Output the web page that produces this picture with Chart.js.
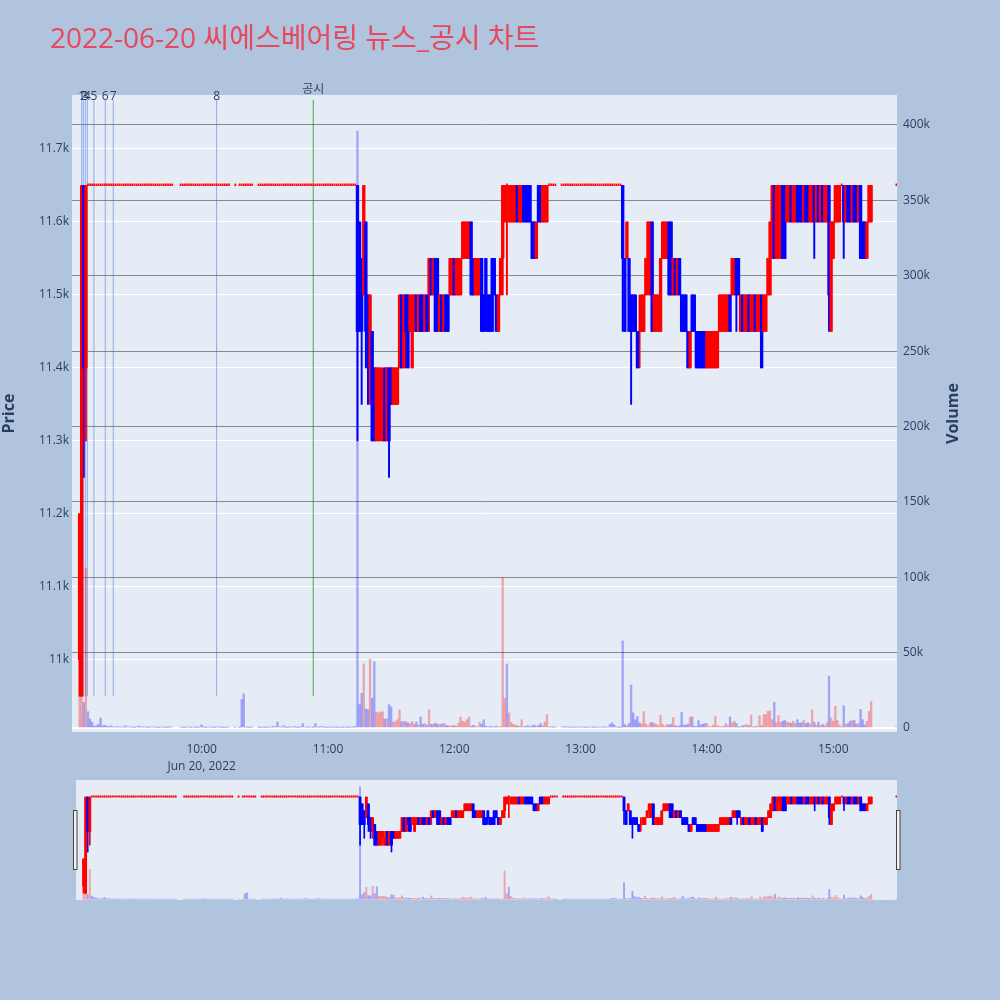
<!DOCTYPE html>
<html>
<head>
<meta charset="utf-8">
<script src="https://cdn.jsdelivr.net/npm/chart.js@4.4.1/dist/chart.umd.min.js"></script>
<style>
  html, body { margin: 0; padding: 0; background: #b0c4de; }
  #wrap { position: relative; width: 1000px; height: 1000px; background: #b0c4de; }
  #main { position: absolute; left: 0; top: 0; }
  #mini { position: absolute; left: 0; top: 780px; }
</style>
</head>
<body>
<div id="wrap">
  <canvas id="main" width="1000" height="780" style="width:1000px;height:780px"></canvas>
  <canvas id="mini" width="1000" height="120" style="width:1000px;height:120px"></canvas>
</div>
<script>
// one slot per minute, 09:00 .. 15:30 (null = no trade in that minute)
const firstMinute = "09:00";

const openPrice = [
  null, null, 11000, 10950, 11650, 11400, 11650, 11650, 11650, 11650, // 09:00
  11650, 11650, 11650, 11650, 11650, 11650, 11650, 11650, 11650, 11650, // 09:10
  11650, 11650, 11650, 11650, 11650, 11650, 11650, 11650, 11650, 11650, // 09:20
  11650, 11650, 11650, 11650, 11650, 11650, 11650, 11650, 11650, 11650, // 09:30
  11650, 11650, 11650, 11650, 11650, 11650, 11650, null, null, null,    // 09:40
  11650, 11650, 11650, 11650, 11650, 11650, 11650, 11650, 11650, 11650, // 09:50
  11650, 11650, 11650, 11650, 11650, 11650, 11650, 11650, 11650, 11650, // 10:00
  11650, 11650, 11650, 11650, null, null, 11650, null, 11650, 11650,    // 10:10
  11650, 11650, 11650, 11650, 11650, null, null, 11650, 11650, 11650,   // 10:20
  11650, 11650, 11650, 11650, 11650, 11650, 11650, 11650, 11650, 11650, // 10:30
  11650, 11650, 11650, 11650, 11650, 11650, 11650, 11650, 11650, 11650, // 10:40
  11650, 11650, 11650, 11650, 11650, 11650, 11650, 11650, 11650, 11650, // 10:50
  11650, 11650, 11650, 11650, 11650, 11650, 11650, 11650, 11650, 11650, // 11:00
  11650, 11650, 11650, 11650, 11650, 11600, 11550, 11500, 11600, 11500, // 11:10
  11400, 11450, 11400, 11300, 11300, 11350, 11300, 11400, 11300, 11400, // 11:20
  11400, 11350, 11350, 11350, 11400, 11500, 11400, 11500, 11500, 11450, // 11:30
  11400, 11450, 11500, 11450, 11500, 11500, 11450, 11500, 11500, 11550, // 11:40
  11500, 11550, 11550, 11450, 11500, 11450, 11500, 11500, 11500, 11500, // 11:50
  11550, 11500, 11500, 11500, 11550, 11550, 11550, 11550, 11600, 11550, // 12:00
  11500, 11500, 11500, 11550, 11500, 11550, 11500, 11500, 11550, 11550, // 12:10
  11500, 11450, 11500, 11550, 11600, 11650, 11600, 11600, 11600, 11600, // 12:20
  11650, 11600, 11600, 11650, 11650, 11650, 11650, 11600, 11600, 11550, // 12:30
  11650, 11650, 11600, 11600, 11600, 11650, 11650, 11650, 11650, null,  // 12:40
  null, 11650, 11650, 11650, 11650, 11650, 11650, 11650, 11650, 11650,  // 12:50
  11650, 11650, 11650, 11650, 11650, 11650, 11650, 11650, 11650, 11650, // 13:00
  11650, 11650, 11650, 11650, 11650, 11650, 11650, 11650, 11650, 11650, // 13:10
  11650, 11550, 11550, 11550, 11500, 11500, 11500, 11450, 11450, 11450, // 13:20
  11450, 11500, 11550, 11500, 11600, 11450, 11450, 11450, 11450, 11550, // 13:30
  11550, 11550, 11600, 11600, 11500, 11550, 11500, 11550, 11500, 11500, // 13:40
  11500, 11450, 11400, 11500, 11500, 11450, 11450, 11450, 11450, 11450, // 13:50
  11400, 11400, 11400, 11400, 11400, 11400, 11450, 11450, 11450, 11450, // 14:00
  11450, 11500, 11500, 11500, 11550, 11550, 11450, 11500, 11450, 11450, // 14:10
  11500, 11450, 11450, 11500, 11450, 11450, 11500, 11450, 11450, 11500, // 14:20
  11500, 11550, 11650, 11550, 11600, 11550, 11650, 11650, 11600, 11600, // 14:30
  11650, 11600, 11600, 11650, 11650, 11650, 11600, 11650, 11650, 11600, // 14:40
  11600, 11650, 11600, 11650, 11600, 11650, 11600, 11600, 11650, 11450, // 14:50
  11550, 11600, 11600, 11600, 11650, 11650, 11600, 11650, 11650, 11600, // 15:00
  11650, 11650, 11600, 11650, 11600, 11600, 11550, 11600, 11600, null,  // 15:10
  null, null, null, null, null, null, null, null, null, null,           // 15:20
  11650                                                                 // 15:30
];

const highPrice = [
  null, null, 11200, 11650, 11650, 11650, 11650, 11650, 11650, 11650, // 09:00
  11650, 11650, 11650, 11650, 11650, 11650, 11650, 11650, 11650, 11650, // 09:10
  11650, 11650, 11650, 11650, 11650, 11650, 11650, 11650, 11650, 11650, // 09:20
  11650, 11650, 11650, 11650, 11650, 11650, 11650, 11650, 11650, 11650, // 09:30
  11650, 11650, 11650, 11650, 11650, 11650, 11650, null, null, null,    // 09:40
  11650, 11650, 11650, 11650, 11650, 11650, 11650, 11650, 11650, 11650, // 09:50
  11650, 11650, 11650, 11650, 11650, 11650, 11650, 11650, 11650, 11650, // 10:00
  11650, 11650, 11650, 11650, null, null, 11650, null, 11650, 11650,    // 10:10
  11650, 11650, 11650, 11650, 11650, null, null, 11650, 11650, 11650,   // 10:20
  11650, 11650, 11650, 11650, 11650, 11650, 11650, 11650, 11650, 11650, // 10:30
  11650, 11650, 11650, 11650, 11650, 11650, 11650, 11650, 11650, 11650, // 10:40
  11650, 11650, 11650, 11650, 11650, 11650, 11650, 11650, 11650, 11650, // 10:50
  11650, 11650, 11650, 11650, 11650, 11650, 11650, 11650, 11650, 11650, // 11:00
  11650, 11650, 11650, 11650, 11650, 11600, 11550, 11650, 11600, 11500, // 11:10
  11500, 11450, 11400, 11400, 11400, 11400, 11400, 11400, 11400, 11400, // 11:20
  11400, 11400, 11400, 11400, 11500, 11500, 11500, 11500, 11500, 11500, // 11:30
  11500, 11500, 11500, 11500, 11500, 11500, 11500, 11500, 11550, 11550, // 11:40
  11550, 11550, 11550, 11500, 11500, 11500, 11500, 11500, 11550, 11550, // 11:50
  11550, 11550, 11550, 11550, 11600, 11600, 11600, 11600, 11600, 11550, // 12:00
  11550, 11550, 11550, 11550, 11500, 11550, 11500, 11500, 11550, 11550, // 12:10
  11500, 11500, 11550, 11650, 11650, 11650, 11650, 11650, 11650, 11650, // 12:20
  11650, 11650, 11650, 11650, 11650, 11650, 11650, 11600, 11600, 11600, // 12:30
  11650, 11650, 11650, 11650, 11650, 11650, 11650, 11650, 11650, null,  // 12:40
  null, 11650, 11650, 11650, 11650, 11650, 11650, 11650, 11650, 11650,  // 12:50
  11650, 11650, 11650, 11650, 11650, 11650, 11650, 11650, 11650, 11650, // 13:00
  11650, 11650, 11650, 11650, 11650, 11650, 11650, 11650, 11650, 11650, // 13:10
  11650, 11550, 11600, 11550, 11500, 11500, 11500, 11450, 11500, 11500, // 13:20
  11500, 11550, 11600, 11600, 11600, 11500, 11500, 11500, 11550, 11600, // 13:30
  11600, 11600, 11600, 11600, 11550, 11550, 11550, 11550, 11500, 11500, // 13:40
  11500, 11450, 11450, 11500, 11500, 11450, 11450, 11450, 11450, 11450, // 13:50
  11450, 11450, 11450, 11450, 11450, 11450, 11500, 11500, 11500, 11500, // 14:00
  11500, 11500, 11550, 11550, 11550, 11550, 11500, 11500, 11500, 11500, // 14:10
  11500, 11500, 11500, 11500, 11500, 11500, 11500, 11500, 11500, 11550, // 14:20
  11600, 11650, 11650, 11650, 11650, 11650, 11650, 11650, 11650, 11650, // 14:30
  11650, 11650, 11650, 11650, 11650, 11650, 11650, 11650, 11650, 11650, // 14:40
  11650, 11650, 11650, 11650, 11650, 11650, 11650, 11650, 11650, 11600, // 14:50
  11600, 11650, 11650, 11650, 11650, 11650, 11650, 11650, 11650, 11650, // 15:00
  11650, 11650, 11650, 11650, 11600, 11600, 11600, 11650, 11650, null,  // 15:10
  null, null, null, null, null, null, null, null, null, null,           // 15:20
  11650                                                                 // 15:30
];

const lowPrice = [
  null, null, 10950, 10950, 11250, 11300, 11650, 11650, 11650, 11650, // 09:00
  11650, 11650, 11650, 11650, 11650, 11650, 11650, 11650, 11650, 11650, // 09:10
  11650, 11650, 11650, 11650, 11650, 11650, 11650, 11650, 11650, 11650, // 09:20
  11650, 11650, 11650, 11650, 11650, 11650, 11650, 11650, 11650, 11650, // 09:30
  11650, 11650, 11650, 11650, 11650, 11650, 11650, null, null, null,    // 09:40
  11650, 11650, 11650, 11650, 11650, 11650, 11650, 11650, 11650, 11650, // 09:50
  11650, 11650, 11650, 11650, 11650, 11650, 11650, 11650, 11650, 11650, // 10:00
  11650, 11650, 11650, 11650, null, null, 11650, null, 11650, 11650,    // 10:10
  11650, 11650, 11650, 11650, 11650, null, null, 11650, 11650, 11650,   // 10:20
  11650, 11650, 11650, 11650, 11650, 11650, 11650, 11650, 11650, 11650, // 10:30
  11650, 11650, 11650, 11650, 11650, 11650, 11650, 11650, 11650, 11650, // 10:40
  11650, 11650, 11650, 11650, 11650, 11650, 11650, 11650, 11650, 11650, // 10:50
  11650, 11650, 11650, 11650, 11650, 11650, 11650, 11650, 11650, 11650, // 11:00
  11650, 11650, 11650, 11650, 11300, 11450, 11350, 11500, 11400, 11350, // 11:10
  11350, 11300, 11300, 11300, 11300, 11300, 11300, 11300, 11300, 11250, // 11:20
  11350, 11350, 11350, 11350, 11400, 11400, 11400, 11400, 11400, 11450, // 11:30
  11400, 11450, 11450, 11450, 11450, 11450, 11450, 11450, 11450, 11500, // 11:40
  11500, 11450, 11450, 11450, 11450, 11450, 11450, 11450, 11500, 11500, // 11:50
  11500, 11500, 11500, 11500, 11550, 11550, 11550, 11550, 11500, 11500, // 12:00
  11500, 11500, 11500, 11450, 11450, 11450, 11450, 11450, 11450, 11500, // 12:10
  11450, 11450, 11500, 11500, 11600, 11500, 11600, 11600, 11600, 11600, // 12:20
  11600, 11600, 11600, 11600, 11600, 11600, 11600, 11550, 11550, 11550, // 12:30
  11600, 11600, 11600, 11600, 11600, 11650, 11650, 11650, 11650, null,  // 12:40
  null, 11650, 11650, 11650, 11650, 11650, 11650, 11650, 11650, 11650,  // 12:50
  11650, 11650, 11650, 11650, 11650, 11650, 11650, 11650, 11650, 11650, // 13:00
  11650, 11650, 11650, 11650, 11650, 11650, 11650, 11650, 11650, 11650, // 13:10
  11450, 11450, 11550, 11450, 11350, 11450, 11450, 11400, 11400, 11450, // 13:20
  11450, 11500, 11500, 11500, 11450, 11450, 11450, 11450, 11450, 11550, // 13:30
  11550, 11550, 11500, 11500, 11500, 11500, 11500, 11500, 11450, 11450, // 13:40
  11450, 11400, 11400, 11450, 11450, 11400, 11400, 11400, 11400, 11400, // 13:50
  11400, 11400, 11400, 11400, 11400, 11400, 11450, 11450, 11450, 11450, // 14:00
  11450, 11450, 11500, 11500, 11450, 11500, 11450, 11450, 11450, 11450, // 14:10
  11450, 11450, 11450, 11450, 11450, 11450, 11400, 11450, 11450, 11500, // 14:20
  11500, 11550, 11550, 11550, 11550, 11550, 11550, 11550, 11600, 11600, // 14:30
  11600, 11600, 11600, 11600, 11600, 11600, 11600, 11600, 11600, 11600, // 14:40
  11600, 11550, 11600, 11600, 11600, 11600, 11600, 11600, 11450, 11450, // 14:50
  11550, 11600, 11600, 11600, 11650, 11550, 11600, 11600, 11600, 11600, // 15:00
  11600, 11600, 11600, 11550, 11550, 11550, 11550, 11600, 11600, null,  // 15:10
  null, null, null, null, null, null, null, null, null, null,           // 15:20
  11650                                                                 // 15:30
];

const closePrice = [
  null, null, 11200, 11650, 11400, 11650, 11650, 11650, 11650, 11650, // 09:00
  11650, 11650, 11650, 11650, 11650, 11650, 11650, 11650, 11650, 11650, // 09:10
  11650, 11650, 11650, 11650, 11650, 11650, 11650, 11650, 11650, 11650, // 09:20
  11650, 11650, 11650, 11650, 11650, 11650, 11650, 11650, 11650, 11650, // 09:30
  11650, 11650, 11650, 11650, 11650, 11650, 11650, null, null, null,    // 09:40
  11650, 11650, 11650, 11650, 11650, 11650, 11650, 11650, 11650, 11650, // 09:50
  11650, 11650, 11650, 11650, 11650, 11650, 11650, 11650, 11650, 11650, // 10:00
  11650, 11650, 11650, 11650, null, null, 11650, null, 11650, 11650,    // 10:10
  11650, 11650, 11650, 11650, 11650, null, null, 11650, 11650, 11650,   // 10:20
  11650, 11650, 11650, 11650, 11650, 11650, 11650, 11650, 11650, 11650, // 10:30
  11650, 11650, 11650, 11650, 11650, 11650, 11650, 11650, 11650, 11650, // 10:40
  11650, 11650, 11650, 11650, 11650, 11650, 11650, 11650, 11650, 11650, // 10:50
  11650, 11650, 11650, 11650, 11650, 11650, 11650, 11650, 11650, 11650, // 11:00
  11650, 11650, 11650, 11650, 11450, 11450, 11450, 11650, 11450, 11400, // 11:10
  11500, 11300, 11300, 11400, 11400, 11400, 11350, 11300, 11400, 11300, // 11:20
  11350, 11400, 11400, 11400, 11500, 11400, 11500, 11450, 11400, 11500, // 11:30
  11500, 11500, 11450, 11500, 11450, 11450, 11500, 11450, 11550, 11500, // 11:40
  11550, 11450, 11450, 11500, 11450, 11500, 11450, 11450, 11550, 11550, // 11:50
  11500, 11550, 11550, 11550, 11600, 11600, 11600, 11600, 11500, 11500, // 12:00
  11550, 11550, 11550, 11450, 11450, 11500, 11450, 11450, 11450, 11500, // 12:10
  11450, 11500, 11550, 11650, 11650, 11650, 11650, 11650, 11650, 11650, // 12:20
  11600, 11650, 11650, 11600, 11600, 11600, 11600, 11550, 11550, 11600, // 12:30
  11600, 11600, 11650, 11650, 11650, 11650, 11650, 11650, 11650, null,  // 12:40
  null, 11650, 11650, 11650, 11650, 11650, 11650, 11650, 11650, 11650,  // 12:50
  11650, 11650, 11650, 11650, 11650, 11650, 11650, 11650, 11650, 11650, // 13:00
  11650, 11650, 11650, 11650, 11650, 11650, 11650, 11650, 11650, 11650, // 13:10
  11550, 11450, 11600, 11450, 11450, 11450, 11450, 11400, 11450, 11500, // 13:20
  11500, 11550, 11600, 11600, 11450, 11500, 11500, 11500, 11550, 11600, // 13:30
  11600, 11600, 11500, 11500, 11550, 11500, 11550, 11500, 11450, 11450, // 13:40
  11450, 11400, 11450, 11450, 11450, 11400, 11400, 11400, 11400, 11400, // 13:50
  11450, 11450, 11450, 11450, 11450, 11450, 11500, 11500, 11500, 11500, // 14:00
  11500, 11450, 11550, 11550, 11500, 11500, 11500, 11450, 11500, 11500, // 14:10
  11450, 11500, 11500, 11450, 11500, 11500, 11400, 11500, 11500, 11550, // 14:20
  11600, 11650, 11550, 11650, 11650, 11650, 11550, 11550, 11650, 11650, // 14:30
  11600, 11650, 11650, 11600, 11600, 11600, 11650, 11600, 11600, 11650, // 14:40
  11650, 11600, 11650, 11600, 11650, 11600, 11650, 11650, 11500, 11600, // 14:50
  11600, 11650, 11650, 11650, 11650, 11600, 11650, 11600, 11600, 11650, // 15:00
  11600, 11600, 11650, 11550, 11550, 11550, 11600, 11650, 11650, null,  // 15:10
  null, null, null, null, null, null, null, null, null, null,           // 15:20
  11650                                                                 // 15:30
];

const volume = [
  null, null, 60000, 175000, 17000, 106000, 10800, 6000, 3800, 1200,   // 09:00
  1500, 2500, 6600, 1500, 1800, 1200, 900, 1500, 600, 800,             // 09:10
  1000, 500, 700, 400, 1500, 600, 800, 500, 300, 600,                  // 09:20
  1200, 900, 500, 700, 400, 300, 800, 600, 500, 400,                   // 09:30
  300, 700, 500, 400, 300, 900, 600, null, null, null,                 // 09:40
  500, 400, 300, 600, 500, 300, 700, 400, 300, 500,                    // 09:50
  2000, 400, 300, 500, 600, 400, 300, 500, 800, 300,                   // 10:00
  400, 300, 500, 600, null, null, 400, null, 300, 19000,               // 10:10
  22600, 500, 400, 300, 600, null, null, 400, 300, 500,                // 10:20
  400, 300, 500, 600, 1200, 500, 4000, 800, 500, 1500,                 // 10:30
  400, 300, 600, 500, 1000, 400, 300, 800, 3000, 600,                  // 10:40
  400, 500, 700, 300, 3000, 600, 400, 1000, 500, 400,                  // 10:50
  300, 500, 400, 600, 300, 400, 500, 300, 600, 400,                    // 11:00
  300, 500, 400, 1200, 396000, 15500, 23000, 42500, 12600, 12200,      // 11:10
  45700, 19700, 43900, 10600, 10000, 10600, 10800, 6000, 6200, 15500,  // 11:20
  14000, 4000, 4200, 5500, 12000, 4200, 4500, 4000, 3500, 3000,        // 11:30
  4200, 2500, 4000, 2000, 7300, 2500, 3000, 2000, 12000, 2500,         // 11:40
  2500, 3200, 2500, 2500, 2500, 3200, 2000, 1500, 1200, 1800,          // 11:50
  1500, 1200, 3200, 7300, 4500, 4000, 5500, 7300, 1200, 1800,          // 12:00
  1200, 800, 3800, 2500, 5500, 1200, 800, 1000, 900, 600,              // 12:10
  1200, 600, 1000, 100000, 19700, 42500, 10000, 3700, 2500, 2000,      // 12:20
  1500, 1200, 5500, 800, 1200, 1500, 800, 1500, 2000, 1200,            // 12:30
  1800, 3000, 1500, 4000, 8900, 600, 800, 400, 500, null,              // 12:40
  null, 700, 400, 1000, 500, 300, 600, 400, 800, 500,                  // 12:50
  400, 600, 300, 500, 400, 700, 300, 500, 400, 600,                    // 13:00
  500, 400, 800, 600, 2500, 3500, 2000, 600, 400, 300,                 // 13:10
  57800, 2200, 1500, 3000, 28500, 10000, 5500, 7700, 3500, 2500,       // 13:20
  11000, 2800, 1500, 3500, 3800, 2800, 2500, 1500, 8400, 2500,         // 13:30
  1200, 2500, 2000, 2500, 7000, 1500, 1200, 1500, 10400, 1800,         // 13:40
  2000, 2500, 7300, 7300, 1200, 1000, 5000, 2000, 2500, 3000,          // 13:50
  3000, 1000, 1000, 2000, 7700, 1500, 1000, 500, 1200, 3000,           // 14:00
  1500, 7300, 3500, 4500, 3000, 500, 1000, 1500, 2000, 2200,           // 14:10
  1500, 8600, 500, 1000, 1200, 8200, 1500, 8900, 8900, 11000,          // 14:20
  11400, 5500, 17000, 3500, 8200, 3800, 4500, 5000, 4000, 3500,        // 14:30
  3200, 4500, 3000, 5500, 3200, 3500, 5000, 3000, 3500, 2800,          // 14:40
  12000, 3800, 2000, 4000, 1500, 2500, 1500, 3500, 34500, 6600,        // 14:50
  4500, 14400, 5000, 2000, 800, 14800, 2500, 3000, 4500, 5000,         // 15:00
  5000, 2500, 3000, 12400, 5500, 2000, 4500, 11000, 17500, null,       // 15:10
  null, null, null, null, null, null, null, null, null, null,          // 15:20
  800                                                                  // 15:30
];

const newsLabels = ["1", "2", "3", "4", "5", "6", "7", "8", "공시"];
const newsTimes = ["09:03:00", "09:03:48", "09:04:45", "09:05:42", "09:08:48",
                   "09:14:12", "09:18:00", "10:07:06", "10:53:00"];

const xTickTimes = ["10:00", "11:00", "12:00", "13:00", "14:00", "15:00"];
const xTickLabels = ["10:00", "11:00", "12:00", "13:00", "14:00", "15:00"];
const dateLabel = "Jun 20, 2022";
const priceTicks = [11000, 11100, 11200, 11300, 11400, 11500, 11600, 11700];
const priceTickLabels = ["11k", "11.1k", "11.2k", "11.3k", "11.4k", "11.5k", "11.6k", "11.7k"];
const volTicks = [0, 50000, 100000, 150000, 200000, 250000, 300000, 350000, 400000];
const volTickLabels = ["0", "50k", "100k", "150k", "200k", "250k", "300k", "350k", "400k"];

const titleText = "2022-06-20 씨에스베어링 뉴스_공시 차트";

// axis windows
const timeRange = ["08:58:24", "15:30:18"];
const priceRange = [10901, 11774];
const volRange = [-2650, 419900];

const RED = "#ff0000", BLUE = "#0000ff";
const RED_VOL = "rgba(255,0,0,0.3)", BLUE_VOL = "rgba(0,0,255,0.3)";
const INK = "#2a3f5f";
const FONT = '"Open Sans", "Noto Sans CJK KR", sans-serif';

function toMin(s) {
  const [h, m, sec] = s.split(":").map(Number);
  return h * 60 + m + (sec || 0) / 60;
}

const start = toMin(firstMinute);
const wicks = [], bodies = [], dojis = [], vols = [];
openPrice.forEach((o, i) => {
  if (o === null) return;
  const x = start + i;
  const c = closePrice[i];
  const rise = c >= o;
  wicks.push({ x, y: [lowPrice[i], highPrice[i]], rise });
  if (o === c) dojis.push({ x, y: [o, c], rise });
  else bodies.push({ x, y: [Math.min(o, c), Math.max(o, c)], rise });
  vols.push({ x, y: volume[i], rise: c > o });
});
const dayLow = Math.min(...lowPrice.filter(v => v !== null));

const candleColor = ctx => (ctx.raw && ctx.raw.rise ? RED : BLUE);
const volColor = ctx => (ctx.raw && ctx.raw.rise ? RED_VOL : BLUE_VOL);

function makeDatasets(w) {
  return [
    { type: "bar", data: vols, yAxisID: "vol", backgroundColor: volColor,
      barThickness: w.vol, grouped: false, order: 5 },
    { type: "bar", data: wicks, yAxisID: "price", backgroundColor: candleColor,
      barThickness: w.wick, grouped: false, order: 2 },
    { type: "bar", data: bodies, yAxisID: "price", backgroundColor: candleColor,
      barThickness: w.body, grouped: false, order: 1 },
    { type: "bar", data: dojis, yAxisID: "price", backgroundColor: candleColor,
      barThickness: w.doji, minBarLength: w.dojiLen, grouped: false, order: 0 }
  ];
}

const plotBg = {
  id: "plotBg",
  beforeDraw(chart) {
    const { ctx, chartArea: a } = chart;
    ctx.save();
    ctx.fillStyle = "#e5ecf6";
    ctx.fillRect(a.left, a.top, a.right - a.left, a.bottom - a.top);
    ctx.restore();
  }
};

const decorations = {
  id: "decorations",
  beforeDatasetsDraw(chart) {
    const { ctx, chartArea: a, scales } = chart;
    const yLow = scales.price.getPixelForValue(dayLow);
    ctx.save();
    ctx.lineWidth = 1;
    newsTimes.forEach((t, i) => {
      const px = scales.x.getPixelForValue(toMin(t));
      ctx.strokeStyle = newsLabels[i] === "공시" ? "rgba(0,140,0,0.7)" : "rgba(65,105,225,0.5)";
      ctx.beginPath();
      ctx.moveTo(px, a.top + 5);
      ctx.lineTo(px, yLow);
      ctx.stroke();
    });
    ctx.restore();
  },
  afterDraw(chart) {
    const { ctx, chartArea: a, scales } = chart;
    ctx.save();
    // news labels
    ctx.fillStyle = INK;
    ctx.textAlign = "center";
    ctx.textBaseline = "middle";
    ctx.font = "12px " + FONT;
    newsTimes.forEach((t, i) => {
      const px = scales.x.getPixelForValue(toMin(t));
      const isDisclosure = newsLabels[i] === "공시";
      ctx.fillText(newsLabels[i], px, isDisclosure ? a.top - 5.5 : a.top + 1.5);
    });
    // title
    ctx.textAlign = "left";
    ctx.fillStyle = "#e8485d";
    ctx.font = "28px " + FONT;
    ctx.fillText(titleText, 50, 40);
    // axis titles
    const midY = (a.top + a.bottom) / 2;
    ctx.fillStyle = INK;
    ctx.font = "bold 16px " + FONT;
    ctx.textAlign = "center";
    [["Price", 9], ["Volume", 953]].forEach(([txt, x]) => {
      ctx.save();
      ctx.translate(x, midY);
      ctx.rotate(-Math.PI / 2);
      ctx.fillText(txt, 0, 0);
      ctx.restore();
    });
    ctx.restore();
  }
};

Chart.defaults.font.family = FONT;
Chart.defaults.color = INK;

new Chart(document.getElementById("main"), {
  type: "bar",
  data: { datasets: makeDatasets({ vol: 1.7, wick: 1.3, body: 2.7, doji: 1.0, dojiLen: 1.6 }) },
  options: {
    responsive: false,
    animation: false,
    events: [],
    layout: { padding: { top: 95, left: 0, right: 0, bottom: 0 } },
    plugins: { legend: { display: false }, tooltip: { enabled: false } },
    scales: {
      x: {
        type: "linear",
        min: toMin(timeRange[0]),
        max: toMin(timeRange[1]),
        offset: false,
        grid: { display: false },
        border: { display: false },
        afterBuildTicks: s => { s.ticks = xTickTimes.map(t => ({ value: toMin(t) })); },
        afterFit: s => { s.height = 48; },
        ticks: {
          autoSkip: false,
          maxRotation: 0,
          padding: 1,
          font: { size: 12, lineHeight: 1.4 },
          callback: (v, i) => (i === 0 ? [xTickLabels[0], dateLabel] : xTickLabels[i])
        }
      },
      price: {
        type: "linear",
        position: "left",
        min: priceRange[0],
        max: priceRange[1],
        border: { display: false },
        grid: { color: "#ffffff", lineWidth: 1, drawTicks: false },
        afterBuildTicks: s => { s.ticks = priceTicks.map(v => ({ value: v })); },
        afterFit: s => { s.width = 72; },
        ticks: { padding: 3, font: { size: 12 }, callback: (v, i) => priceTickLabels[i] }
      },
      vol: {
        type: "linear",
        position: "right",
        min: volRange[0],
        max: volRange[1],
        border: { display: false },
        grid: {
          drawTicks: false,
          color: c => (c.tick && c.tick.value === 0 ? "#ffffff" : "rgba(120,120,120,0.85)"),
          lineWidth: c => (c.tick && c.tick.value === 0 ? 2 : 1)
        },
        afterBuildTicks: s => { s.ticks = volTicks.map(v => ({ value: v })); },
        afterFit: s => { s.width = 103; },
        ticks: { padding: 6, font: { size: 12 }, callback: (v, i) => volTickLabels[i] }
      }
    }
  },
  plugins: [plotBg, decorations]
});

const sliderHandles = {
  id: "sliderHandles",
  afterDraw(chart) {
    const { ctx, chartArea: a } = chart;
    ctx.save();
    ctx.fillStyle = "#f2f2f2";
    ctx.strokeStyle = "#444444";
    ctx.lineWidth = 1;
    [a.left - 3, a.right - 1].forEach(x => {
      ctx.fillRect(x, a.top + 30, 4, 60);
      ctx.strokeRect(x + 0.5, a.top + 30.5, 3.5, 59);
    });
    ctx.restore();
  }
};

new Chart(document.getElementById("mini"), {
  type: "bar",
  data: { datasets: makeDatasets({ vol: 1.3, wick: 1, body: 2.2, doji: 1.0, dojiLen: 1.3 }) },
  options: {
    responsive: false,
    animation: false,
    events: [],
    layout: { padding: { top: 0, left: 76, right: 103, bottom: 0 } },
    plugins: { legend: { display: false }, tooltip: { enabled: false } },
    scales: {
      x: { type: "linear", display: false, offset: false,
           min: toMin(timeRange[0]), max: toMin(timeRange[1]) },
      price: { type: "linear", display: false, min: priceRange[0], max: priceRange[1] },
      vol: { type: "linear", display: false, min: volRange[0], max: volRange[1] }
    }
  },
  plugins: [plotBg, sliderHandles]
});
</script>
</body>
</html>
